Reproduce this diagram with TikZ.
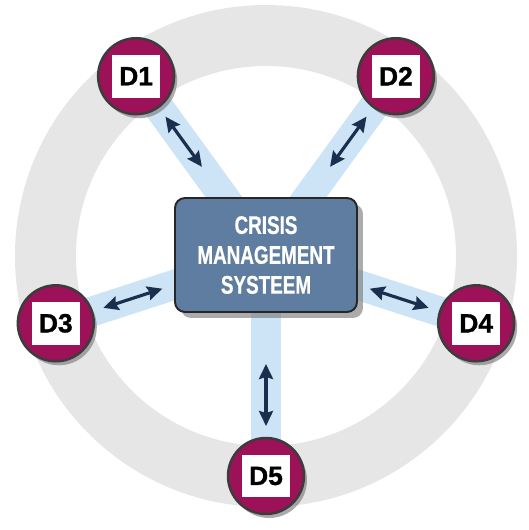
\documentclass[tikz,border=0pt]{standalone}
\usepackage{fontspec}
\setmainfont{Liberation Sans}
\newfontfamily\boxfont[FakeStretch=0.74,FakeBold=0.6]{Liberation Sans}
\newfontfamily\tagfont[FakeBold=1.2]{Liberation Sans}
\usetikzlibrary{arrows.meta,shadows,backgrounds}
\definecolor{ringgray}{HTML}{E6E6E6}
\definecolor{spokeblue}{HTML}{CDE3F6}
\definecolor{arrownavy}{HTML}{1A2F4E}
\definecolor{boxblue}{HTML}{5E7DA0}
\definecolor{discred}{HTML}{9C1158}
\definecolor{discline}{HTML}{3C3C3C}
\tikzset{
	disc/.style = {circle, draw = discline, line width = 1.4pt, fill = discred, minimum size = 1.52cm, inner sep = 0pt,
		drop shadow = {shadow xshift = 0.06cm, shadow yshift = -0.08cm, fill = black!55, opacity = 0.6}},
	tag/.style = {fill = white, minimum width = 0.96cm, minimum height = 0.86cm, inner sep = 0pt,
		font = \tagfont\bfseries\fontsize{15}{18}\selectfont},
	hub/.style = {rectangle, rounded corners = 0.2cm, draw = black!85, line width = 1.1pt, fill = boxblue,
		minimum width = 3.64cm, minimum height = 2.28cm, align = center, text = white,
		font = \boxfont\bfseries\fontsize{14.5}{17}\selectfont,
		drop shadow = {shadow xshift = 0.12cm, shadow yshift = -0.12cm, fill = black!55, opacity = 0.6}},
	spoke/.style = {line width = 17pt, spokeblue},
	link/.style = {line width = 1.8pt, arrownavy, {Stealth[length = 0.3cm, width = 0.28cm, inset = 0.04cm]}-{Stealth[length = 0.3cm, width = 0.28cm, inset = 0.04cm]},
		shorten < = 2.18cm, shorten > = 1.0cm}
}
\begin{document}
\begin{tikzpicture}[x = 0.02cm, y = 0.02cm]
	\useasboundingbox (-266,-275) rectangle (262,255);
	\node [hub] (cms) at (0,0) {CRISIS\\MANAGEMENT\\SYSTEEM};
	\foreach \i/\a in {1/126, 2/54, 3/198, 4/342, 5/270} {
		\node [disc] (d\i) at (\a:221) {};
		\node [tag] (t\i) at (d\i) {D\i};
	}
	\foreach \i in {1,...,5}
		\draw [link] (cms.center) -- (d\i.center);
	\begin{scope}[on background layer]
		\fill [ringgray, even odd rule] (0,-1) circle (251) (0,-1) circle (190);
		\foreach \i in {1,...,5}
			\draw [spoke] (cms.center) -- (d\i.center);
	\end{scope}
\end{tikzpicture}
\end{document}
